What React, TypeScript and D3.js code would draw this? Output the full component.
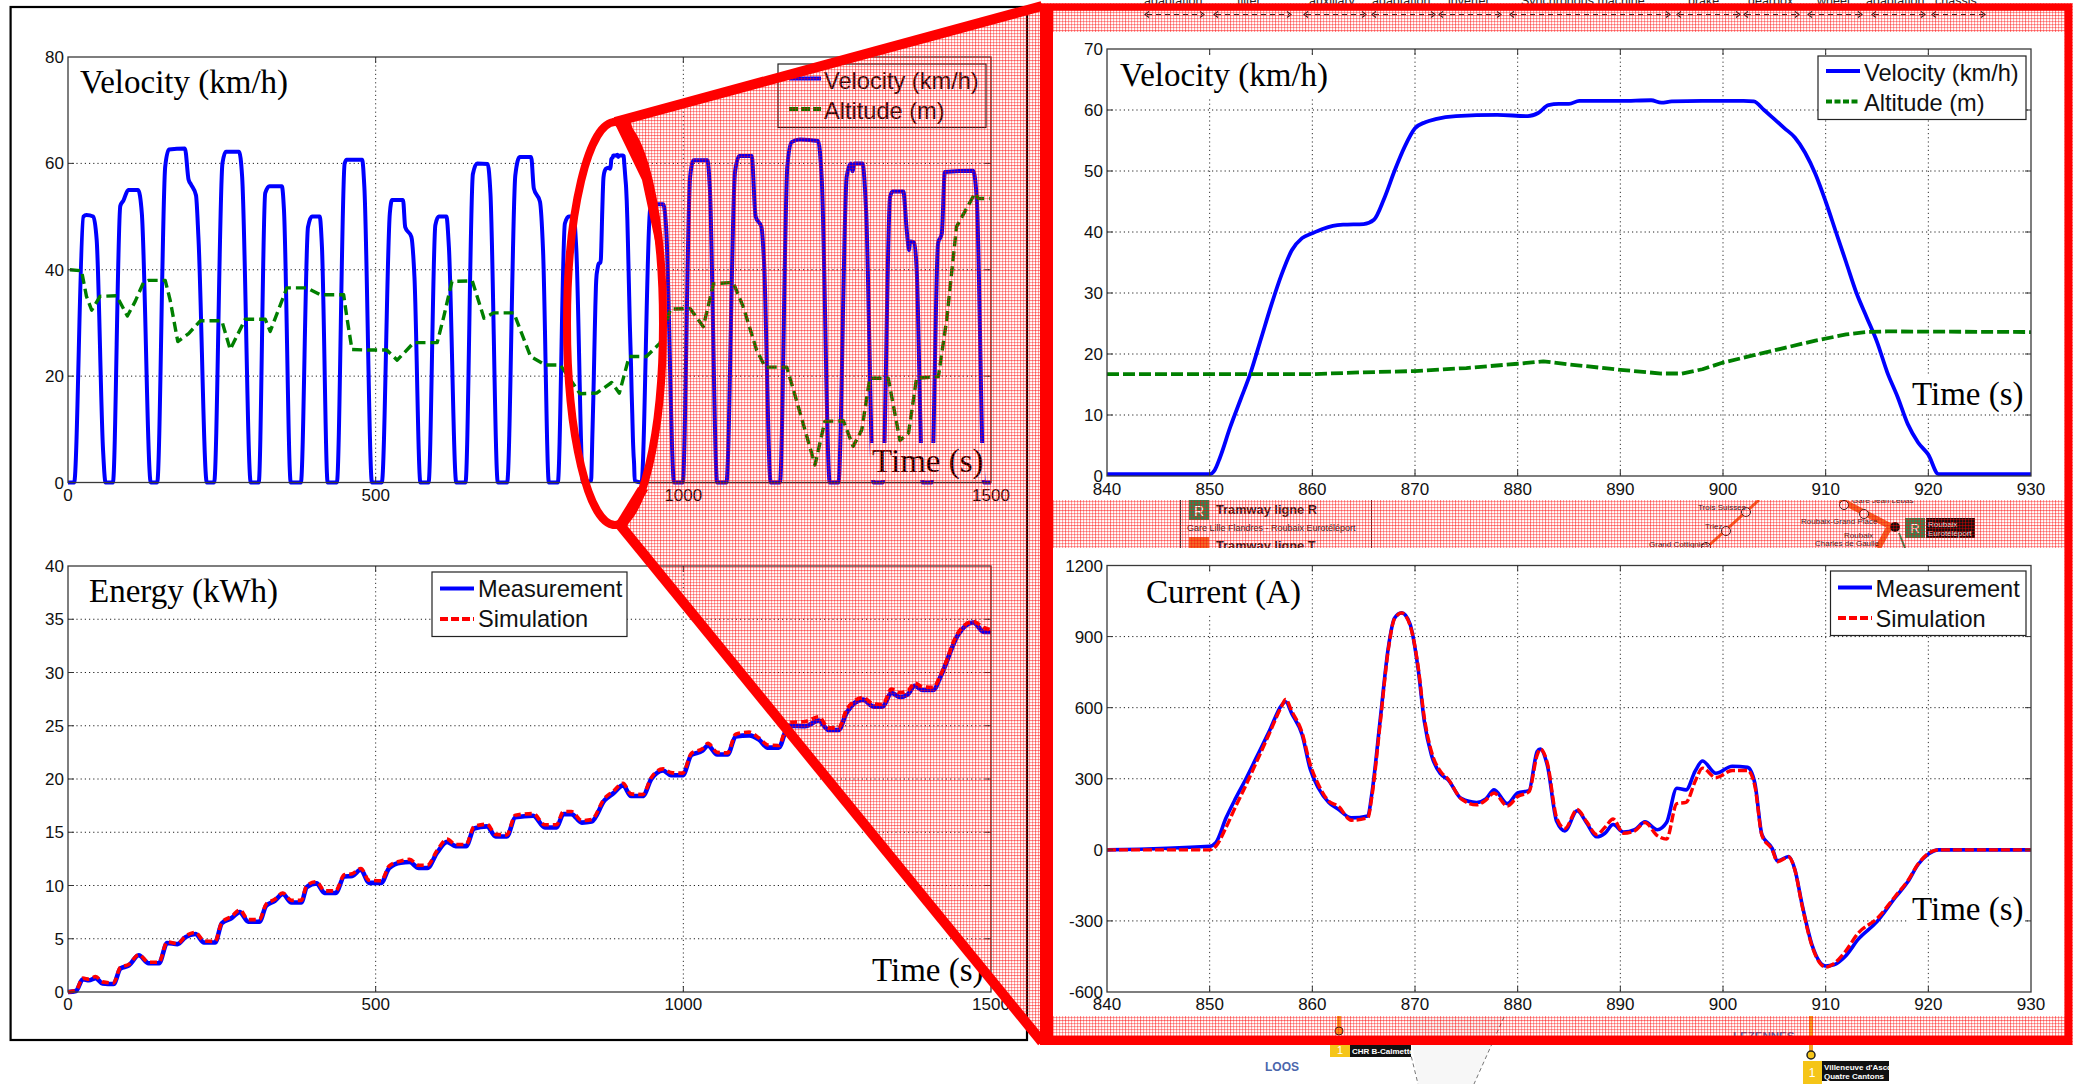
import React from "react";
import * as d3 from "d3";

type P = [number, number];

// ---------- data ----------
const velocityBefore: P[] = [[0,0],[10,0],[25,50],[30,50.3],[41,50],[46.6,45.6],[57,6],[61,0],[73,0],[85,52],[90,53],[98,55],[114,55],[120,50.6],[134.5,0],[145,0],[158,59.4],[164,62.6],[190,62.8],[196,56.9],[200,56],[208,54],[212,46],[225.6,0],[237.5,0],[251,60],[256.5,62.2],[278,62.2],[283,57.5],[297,0],[310,0],[320.5,54.4],[327.5,55.7],[347.6,55.7],[351,51.2],[362,0],[378.5,0],[390,48],[396.4,50],[409,50],[412.7,44.3],[422,0],[437,0],[449.6,60],[453,60.7],[478,60.7],[481.6,55.6],[494,0],[510,0],[523,50.6],[526.6,53.1],[544.5,53.1],[548,48],[558,46.2],[563,38.7],[572.7,0],[586,0],[597,48.4],[602.5,50],[615,50],[619,44.3],[631,0],[646,0],[658,58],[665,60],[682,59.9],[686.5,54.4],[698.5,0],[713.7,0],[727,57.8],[734,61.2],[752.7,61.2],[757,55.3],[767,52.8],[772,43.7],[781.5,0],[796,0],[807.5,48.7],[814,50],[822,50],[826,44],[837,0]];
const velocityZoom: P[] = [[840,0.3],[850,0.3],[850.5,1],[851,3],[852,8],[853,12.5],[854,17],[855,22.5],[856,28],[857,33],[858,37],[859,39],[860,39.8],[861,40.5],[862,41],[863,41.2],[865,41.3],[866,42],[867,45.5],[868,50],[869,54],[870,57],[871,58],[872,58.5],[874,59],[878,59.2],[881,59],[882,59.5],[883,60.8],[884,61],[885,61],[886,61.5],[890,61.5],[893,61.6],[894,61.2],[895,61.4],[898,61.5],[902,61.5],[903,61.4],[904,60],[905,58.5],[906,57],[907,55.5],[908,53],[909,49.5],[910,45],[911,40],[912,35],[913,30],[914,26],[915,22],[916,17],[917,13],[918,8.5],[919,5.5],[920,3.5],[921,0.3],[930,0.3]];
const velocityAfter: P[] = [[932,0],[946,51.2],[952,52.3],[967.5,52.3],[972,48],[985,0],[999,0],[1011,57.5],[1017,60.6],[1039,60.6],[1043,55.6],[1055,0],[1070,0],[1084,58.4],[1091,61.4],[1111,61.4],[1117.5,50],[1127,48],[1131,41.8],[1142,0],[1157,0],[1169,59.4],[1176,64],[1189.6,64.5],[1219,64.2],[1225,56.9],[1238,0],[1252,0],[1265.5,57.5],[1272,60],[1275,58.5],[1278,60],[1291,60],[1297,51.2],[1309,0],[1324,0],[1336,53.7],[1340,54.7],[1357.5,54.7],[1363,47.5],[1367,43.7],[1368.4,45.3],[1375.4,45.1],[1379,40.6],[1389,0],[1403.5,0],[1414,45],[1420,46.8],[1425,58.4],[1471,58.6],[1477,53],[1488.6,0],[1500,0]];
const altitudeAll: P[] = [[3,40],[22,39.8],[30,35],[38.5,32.4],[52,35],[79,35.1],[96.5,31.3],[109,34],[122.6,37.6],[131,38],[158,38],[166,34.3],[178.4,26.5],[196,28],[215,30.4],[250,30.4],[263.6,25],[288,30.7],[320.5,30.7],[328.6,28.4],[355.7,36.6],[388,36.6],[410,35.3],[448,35.3],[453,31.2],[461.5,25],[491,24.9],[518,24.9],[535,23],[562,26.3],[600,26.3],[610.7,31.2],[624,37.8],[657,37.9],[676,30.9],[692,31.9],[724.5,31.9],[751.6,23.7],[776,22.1],[800,22.1],[832,16.7],[859,16.8],[883.5,18.8],[896,16.8],[912,23.7],[940,23.7],[962,26.2],[979,32.6],[1011,32.7],[1032.5,29.3],[1049,37.4],[1081,37.6],[1097.5,33],[1119,24.9],[1133,21.7],[1168,21.7],[1179,17.4],[1214,3.3],[1230,11.5],[1260,11.6],[1276,6.8],[1290,9.9],[1303,19.6],[1333,19.6],[1352,7.9],[1366,9.3],[1379,19.6],[1414.5,19.9],[1428,30.6],[1444,48.1],[1474,54.4],[1479.5,53.4],[1498,53.4]];
const altitudeZoom: P[] = [[840,16.7],[860,16.7],[865,17],[870,17.2],[875,17.7],[880,18.4],[882.5,18.8],[885,18.3],[890,17.4],[894,16.8],[896,16.8],[898,17.5],[900,18.6],[903,19.8],[906,21],[909,22.2],[912,23.2],[914,23.6],[916,23.7],[930,23.6]];

const energyMeasured: P[] = [[0,0],[13,0.1],[24,1.2],[34,1.1],[45,1.3],[56,0.8],[74,0.75],[85,2.2],[99,2.5],[115,3.45],[131,2.7],[148,2.7],[161,4.6],[178,4.5],[191,5.15],[207,5.45],[221,4.65],[239,4.65],[250,6.45],[266,6.95],[279,7.5],[293,6.6],[311,6.6],[322,8.1],[336,8.55],[349,9.2],[363,8.4],[379,8.4],[388,9.85],[404,10.2],[417,9.3],[435,9.3],[449,10.85],[462,10.9],[476,11.5],[489,10.25],[509,10.25],[522,11.65],[541,12.15],[555,12.2],[570,11.65],[584,11.65],[600,13.1],[616,14.1],[630,13.7],[647,13.7],[660,15.35],[681,15.55],[695,14.6],[713,14.6],[727,16.4],[756,16.55],[775,15.45],[794,15.45],[805,16.7],[818,16.7],[835,15.9],[851,16],[872,18],[886,18.65],[902,19.4],[915,18.4],[934,18.4],[948,20],[967,20.8],[980,20.35],[999,20.35],[1013,22.25],[1031,22.65],[1040,23.15],[1055,22.3],[1072,22.3],[1085,24],[1107,24.1],[1123,23.7],[1137,22.95],[1155,22.95],[1171,25],[1198,24.95],[1220,25.5],[1236,24.6],[1252,24.6],[1266,26.3],[1292,27.45],[1309,26.8],[1324,26.8],[1338,28.1],[1352,27.7],[1365,27.95],[1376,28.75],[1389,28.35],[1406,28.35],[1419,29.75],[1446,33.5],[1471,34.7],[1489,33.8],[1500,33.8]];
const energySimulated: P[] = [[0,0],[13,0.15],[24,1.3],[34,1.2],[45,1.45],[56,0.95],[74,0.85],[85,2.3],[99,2.6],[115,3.5],[131,2.8],[148,2.8],[161,4.7],[178,4.55],[191,5.25],[207,5.6],[221,4.8],[239,4.75],[250,6.55],[266,7.1],[279,7.7],[293,6.8],[311,6.8],[322,8.25],[336,8.7],[349,9.3],[363,8.6],[379,8.6],[388,10],[404,10.35],[417,9.5],[435,9.5],[449,11],[462,11.1],[476,11.6],[489,10.5],[509,10.45],[522,11.85],[541,12.3],[555,12.45],[570,11.9],[584,11.9],[600,13.3],[616,14.35],[630,13.85],[647,13.85],[660,15.55],[681,15.75],[695,14.8],[713,14.75],[727,16.6],[756,16.75],[775,15.7],[794,15.7],[805,16.95],[818,16.95],[835,16.1],[851,16.2],[872,18.2],[886,18.85],[902,19.6],[915,18.6],[934,18.55],[948,20.15],[967,20.95],[980,20.6],[999,20.55],[1013,22.4],[1031,22.85],[1040,23.35],[1055,22.5],[1072,22.45],[1085,24.2],[1107,24.4],[1123,23.85],[1137,23.2],[1155,23.15],[1171,25.3],[1198,25.4],[1220,25.85],[1236,24.8],[1252,24.8],[1266,26.6],[1292,27.65],[1309,27.05],[1324,27],[1338,28.45],[1352,28.1],[1365,28.3],[1376,29],[1389,28.65],[1406,28.6],[1419,29.9],[1446,33.7],[1471,34.8],[1489,34.2],[1500,34]];

const currentTime = [840,850,850.6,851.6,852.5,853.5,854.5,855.8,857,857.4,858,859,859.8,860.6,861.6,862.5,863.8,865.4,865.8,866.6,867.4,868,868.7,869.5,870.3,870.9,871.6,872.5,873.2,874.5,876,876.9,877.7,879,880,881.1,881.9,882.2,882.9,883.8,884.6,885.8,886.7,887.7,888.5,889.3,890.3,891.4,892.4,893.6,894.5,895.5,896.4,897.3,898,899.3,900.9,902.4,903.1,903.8,904.8,905.3,906.4,907,907.7,908.7,910,910.8,911.9,913.2,915,916.8,918,919,920,921,930];
const currentMeasured = [0,15,30,135,215,297,385,500,610,625,575,487,340,260,200,172,135,143,238,545,853,977,1000,955,765,545,400,320,297,217,200,215,253,195,240,250,415,425,355,120,80,165,115,55,70,107,75,85,118,85,115,260,253,333,375,323,353,348,282,63,5,-47,-28,-83,-230,-405,-490,-485,-450,-376,-303,-200,-135,-62,-18,0,0];
const currentSimulated = [0,0,15,95,180,270,365,490,605,635,585,495,360,275,205,185,125,135,225,530,845,975,1000,950,775,560,415,330,300,215,190,210,240,185,225,245,400,425,365,135,90,170,120,65,95,130,70,80,115,60,45,195,200,290,345,305,335,335,270,60,0,-50,-30,-85,-235,-410,-495,-480,-430,-350,-290,-195,-130,-60,-15,0,0];

const leftTimeTicks = [0, 500, 1000, 1500];
const zoomTimeTicks = [840, 850, 860, 870, 880, 890, 900, 910, 920, 930];
const velocityTicks = [0, 20, 40, 60, 80];
const energyTicks = [0, 5, 10, 15, 20, 25, 30, 35, 40];
const zoomVelocityTicks = [0, 10, 20, 30, 40, 50, 60, 70];
const currentTicks = [-600, -300, 0, 300, 600, 900, 1200];

const topLabels = ["adaptation", "filter", "auxiliary", "adaptation", "inverter", "Synchronous machine", "brake", "gearbox", "wheel", "adaptation", "chassis"];
const topLabelX = [1144, 1237, 1309, 1372, 1448, 1521, 1688, 1748, 1817, 1866, 1935];

// ---------- look ----------
const SANS = "'Liberation Sans', Arial, sans-serif";
const SERIF = "'Liberation Serif', 'Times New Roman', serif";
const BLUE = "#0000ff";
const GREEN = "#007f00";
const RED = "#ff0000";

type Series = { pts: P[]; color: string; width: number; dash?: string; curve?: boolean };
type Legend = { x: number; y: number; w: number; h: number; lx0: number; lx1: number; ly: number[]; tx: number; by: number[]; labels: string[] };
type PanelProps = {
  x: [number, number]; y: [number, number]; xDomain: [number, number]; yDomain: [number, number];
  xTicks: number[]; yTicks: number[]; series: Series[]; title: string; titleX: number; titleBase: number;
  timeX: number; timeBase: number; timeBox: [number, number, number, number]; titleBox: [number, number, number, number];
  legend: Legend; legendSeries: Series[]; xLabelBase: number; yLabelRight: number;
};

function Panel(p: PanelProps) {
  const sx = d3.scaleLinear().domain(p.xDomain).range(p.x);
  const sy = d3.scaleLinear().domain(p.yDomain).range([p.y[1], p.y[0]]);
  const line = d3.line<P>().x((d) => sx(d[0])).y((d) => sy(d[1]));
  const smooth = d3.line<P>().x((d) => sx(d[0])).y((d) => sy(d[1])).curve(d3.curveMonotoneX);
  const left = p.x[0], right = p.x[1], top = p.y[0], bottom = p.y[1];
  const L = p.legend;
  return (
    <g>
      <rect x={left} y={top} width={right - left} height={bottom - top} fill="#fff" />
      {p.xTicks.slice(1, -1).map((t) => (
        <line key={t} x1={sx(t)} x2={sx(t)} y1={top} y2={bottom} stroke="#333" strokeWidth={1} strokeDasharray="1.2 3" />
      ))}
      {p.yTicks.slice(1, -1).map((t) => (
        <line key={t} x1={left} x2={right} y1={sy(t)} y2={sy(t)} stroke="#222" strokeWidth={1} strokeDasharray="1.2 3" />
      ))}
      {p.series.map((s, i) => (
        <path key={i} d={(s.curve ? smooth : line)(s.pts) || ""} fill="none" stroke={s.color} strokeWidth={s.width} strokeDasharray={s.dash} strokeLinejoin="round" />
      ))}
      <rect x={p.titleBox[0]} y={p.titleBox[1]} width={p.titleBox[2]} height={p.titleBox[3]} fill="#fff" />
      <rect x={p.timeBox[0]} y={p.timeBox[1]} width={p.timeBox[2]} height={p.timeBox[3]} fill="#fff" />
      <rect x={left} y={top} width={right - left} height={bottom - top} fill="none" stroke="#3a3a3a" strokeWidth={1.3} />
      {p.xTicks.slice(1, -1).map((t) => (
        <g key={t}>
          <line x1={sx(t)} x2={sx(t)} y1={top} y2={top + 6} stroke="#333" />
          <line x1={sx(t)} x2={sx(t)} y1={bottom} y2={bottom - 6} stroke="#333" />
        </g>
      ))}
      {p.yTicks.slice(1, -1).map((t) => (
        <g key={t}>
          <line x1={left} x2={left + 6} y1={sy(t)} y2={sy(t)} stroke="#333" />
          <line x1={right} x2={right - 6} y1={sy(t)} y2={sy(t)} stroke="#333" />
        </g>
      ))}
      {p.xTicks.map((t) => (
        <text key={t} x={sx(t)} y={p.xLabelBase} textAnchor="middle" fontFamily={SANS} fontSize={17} fill="#111">{t}</text>
      ))}
      {p.yTicks.map((t) => (
        <text key={t} x={p.yLabelRight} y={sy(t) + 6} textAnchor="end" fontFamily={SANS} fontSize={17} fill="#111">{t}</text>
      ))}
      <text x={p.titleX} y={p.titleBase} fontFamily={SERIF} fontSize={33} fill="#000">{p.title}</text>
      <text x={p.timeX} y={p.timeBase} fontFamily={SERIF} fontSize={33} fill="#000">Time (s)</text>
      <rect x={L.x} y={L.y} width={L.w} height={L.h} fill="#fff" stroke="#222" strokeWidth={1.2} />
      {p.legendSeries.map((s, i) => (
        <g key={i}>
          <line x1={L.lx0} x2={L.lx1} y1={L.ly[i]} y2={L.ly[i]} stroke={s.color} strokeWidth={4} strokeDasharray={s.dash} />
          <text x={L.tx} y={L.by[i]} fontFamily={SANS} fontSize={23.6} fill="#111">{L.labels[i]}</text>
        </g>
      ))}
    </g>
  );
}

function DashedArrow({ x0, x1, y }: { x0: number; x1: number; y: number }) {
  return (
    <g stroke="#222" fill="none" strokeWidth={1.2}>
      <line x1={x0 + 2} x2={x1 - 2} y1={y} y2={y} strokeDasharray="5 4" />
      <path d={`M${x0 + 4},${y - 3} L${x0},${y} L${x0 + 4},${y + 3}`} />
      <path d={`M${x1 - 4},${y - 3} L${x1},${y} L${x1 - 4},${y + 3}`} />
    </g>
  );
}

const arrowSpans: P[] = [[1145, 1204], [1214, 1291], [1304, 1366], [1372, 1435], [1439, 1501], [1510, 1670], [1677, 1740], [1744, 1799], [1808, 1862], [1872, 1925], [1932, 1985]];

export default function App() {
  const velocity: P[] = [...velocityBefore, ...velocityZoom.slice(1, -1), ...velocityAfter];
  const cm: P[] = currentTime.map((t, i) => [t, currentMeasured[i]]);
  const cs: P[] = currentTime.map((t, i) => [t, currentSimulated[i]]);

  const velL: Series = { pts: velocity, color: BLUE, width: 4, curve: true };
  const altL: Series = { pts: altitudeAll, color: GREEN, width: 3.4, dash: "10 5" };
  const velZ: Series = { pts: velocityZoom, color: BLUE, width: 3.8, curve: true };
  const altZ: Series = { pts: altitudeZoom, color: GREEN, width: 3.8, dash: "12 4" };
  const enM: Series = { pts: energyMeasured, color: BLUE, width: 4.6, curve: true };
  const enS: Series = { pts: energySimulated, color: RED, width: 3.6, dash: "7 4", curve: true };
  const curM: Series = { pts: cm, color: BLUE, width: 3.6, curve: true };
  const curS: Series = { pts: cs, color: RED, width: 3.4, dash: "9 3", curve: true };

  const hatch = "M615,120 L1040,5 L1040,1040 L620,525 A48,201.5 0 0 0 615,122 Z";

  return (
    <svg width={2080} height={1084} viewBox="0 0 2080 1084" style={{ position: "absolute", left: 0, top: 0, display: "block" }}>
      <defs>
        <pattern id="fine" width={3} height={3} patternUnits="userSpaceOnUse">
          <rect width={3} height={1.1} fill="rgba(255,0,0,0.36)" />
          <rect width={1.1} height={3} fill="rgba(255,0,0,0.36)" />
        </pattern>
        <pattern id="coarse" width={15} height={15} patternUnits="userSpaceOnUse">
          <rect width={15} height={1} fill="rgba(255,0,0,0.18)" />
          <rect width={1} height={15} fill="rgba(255,0,0,0.18)" />
        </pattern>
      </defs>
      <rect width={2080} height={1084} fill="#fff" />

      {/* background map, partly visible around the plots */}
      <g fontFamily={SANS}>
        {topLabels.map((t, i) => (
          <text key={i} x={topLabelX[i]} y={5} fontSize={12.5} fill="#222" textAnchor="start">{t}</text>
        ))}
        <line x1={1180.5} x2={1180.5} y1={500} y2={548} stroke="#333" />
        <line x1={1371.5} x2={1371.5} y1={500} y2={548} stroke="#333" />
        <rect x={1189} y={500} width={20} height={20} fill="#2e8b57" />
        <text x={1199} y={516} textAnchor="middle" fontSize={14} fill="#fff">R</text>
        <text x={1216} y={514} fontSize={12.8} fontWeight={700} fill="#222">Tramway ligne R</text>
        <text x={1187} y={531} fontSize={9} fill="#222">Gare Lille Flandres - Roubaix Eurotéléport</text>
        <rect x={1189} y={537} width={20} height={20} fill="#f26b2a" />
        <text x={1216} y={550} fontSize={12.8} fontWeight={700} fill="#222">Tramway ligne T</text>
        <line x1={1759} y1={500} x2={1706} y2={548} stroke="#f26b2a" strokeWidth={3} />
        <path d="M1840,500 L1890,526 L1878,548" fill="none" stroke="#f26b2a" strokeWidth={6} />
        <line x1={1899} y1={533} x2={1905} y2={548} stroke="#2e8b57" strokeWidth={2} />
        {[[1746, 512], [1726, 531], [1706, 547], [1844, 505], [1864, 514]].map(([cx, cy], i) => (
          <circle key={i} cx={cx} cy={cy} r={4.5} fill="#fff" stroke="#222" />
        ))}
        <circle cx={1895} cy={527} r={5} fill="#111" />
        <text x={1698} y={510} fontSize={8} fill="#222">Trois Suisses</text>
        <text x={1705} y={529} fontSize={8} fill="#222">Triez</text>
        <text x={1649} y={547} fontSize={8} fill="#222">Grand Cottignies</text>
        <text x={1852} y={503} fontSize={8} fill="#222">Gare Jean Lebas</text>
        <text x={1801} y={524} fontSize={8} fill="#222">Roubaix-Grand Place</text>
        <text x={1844} y={538} fontSize={8} fill="#222">Roubaix</text>
        <text x={1815} y={546} fontSize={8} fill="#222">Charles de Gaulle</text>
        <rect x={1905} y={518} width={20} height={20} fill="#2e8b57" />
        <text x={1915} y={533} textAnchor="middle" fontSize={13} fill="#fff">R</text>
        <rect x={1926} y={518} width={49} height={20} fill="#111" />
        <text x={1928} y={527} fontSize={8} fill="#fff">Roubaix</text>
        <text x={1928} y={536} fontSize={8} fill="#fff">Eurotéléport</text>

        <path d="M1408,1017 L1418,1084 L1474,1084 L1504,1017 Z" fill="#f7f7f7" />
        <line x1={1408} y1={1043} x2={1418} y2={1084} stroke="#777" strokeDasharray="4 3" />
        <line x1={1504} y1={1017} x2={1474} y2={1084} stroke="#777" strokeDasharray="4 3" />
        <line x1={1339} x2={1339} y1={1016} y2={1031} stroke="#f5a623" strokeWidth={4} />
        <circle cx={1339} cy={1031} r={4} fill="#f5a623" stroke="#222" />
        <line x1={1811} x2={1811} y1={1016} y2={1052} stroke="#f5a623" strokeWidth={4} />
        <circle cx={1811} cy={1055} r={4} fill="#f5c518" stroke="#222" strokeWidth={1.5} />
        <text x={1733} y={1040} fontSize={11.5} fontWeight={700} fill="#4a66ac">LEZENNES</text>
        <rect x={1330} y={1040} width={20} height={17} fill="#f5c518" />
        <text x={1340} y={1054} textAnchor="middle" fontSize={11} fill="#fff">1</text>
        <rect x={1350} y={1043} width={61} height={14} fill="#111" />
        <text x={1352} y={1054} fontSize={8} fontWeight={700} fill="#fff">CHR B-Calmette</text>
        <text x={1265} y={1071} fontSize={12} fontWeight={700} fill="#4a66ac">LOOS</text>
        <rect x={1803} y={1061} width={19} height={23} fill="#f5c518" />
        <text x={1812} y={1077} textAnchor="middle" fontSize={12} fill="#fff">1</text>
        <rect x={1822} y={1061} width={67} height={20} fill="#111" />
        <text x={1824} y={1070} fontSize={8} fontWeight={700} fill="#fff">Villeneuve d'Ascq</text>
        <text x={1824} y={1079} fontSize={8} fontWeight={700} fill="#fff">Quatre Cantons</text>
      </g>
      {arrowSpans.map(([a, b], i) => <DashedArrow key={i} x0={a} x1={b} y={14.5} />)}

      {/* left: overall run */}
      <Panel
        x={[68, 991]} y={[57, 482.5]} xDomain={[0, 1500]} yDomain={[0, 80]}
        xTicks={leftTimeTicks} yTicks={velocityTicks} series={[velL, altL]}
        title="Velocity (km/h)" titleX={80} titleBase={93} titleBox={[76, 64, 216, 40]}
        timeX={872} timeBase={472} timeBox={[870, 443, 115, 37]}
        legend={{ x: 778, y: 64, w: 208, h: 63.5, lx0: 789, lx1: 821, ly: [78.5, 109], tx: 824, by: [89, 119], labels: ["Velocity (km/h)", "Altitude (m)"] }}
        legendSeries={[{ ...velL }, { ...altL, dash: "9 3" }]}
        xLabelBase={501} yLabelRight={64}
      />
      <Panel
        x={[68, 991]} y={[566, 992]} xDomain={[0, 1500]} yDomain={[0, 40]}
        xTicks={leftTimeTicks} yTicks={energyTicks} series={[enM, enS]}
        title="Energy (kWh)" titleX={89} titleBase={602} titleBox={[85, 574, 195, 40]}
        timeX={872} timeBase={981} timeBox={[870, 952, 115, 36]}
        legend={{ x: 432, y: 572, w: 195, h: 64.5, lx0: 440, lx1: 474, ly: [588.6, 619], tx: 478, by: [597, 627], labels: ["Measurement", "Simulation"] }}
        legendSeries={[enM, { ...enS, dash: "8 3" }]}
        xLabelBase={1010} yLabelRight={64}
      />
      <rect x={10.6} y={7} width={1016.4} height={1033} fill="none" stroke="#000" strokeWidth={2.2} />

      {/* hatched blow-up wedge */}
      <path d={hatch} fill="url(#fine)" />
      <path d={hatch} fill="url(#coarse)" />
      <rect x={1040} y={3} width={1033} height={1042} fill="url(#fine)" />
      <rect x={1040} y={3} width={1033} height={1042} fill="url(#coarse)" />

      {/* white plot sheets on the right */}
      <rect x={1053} y={32} width={1011.5} height={468} fill="#fff" />
      <rect x={1053} y={548} width={1011.5} height={468} fill="#fff" />

      <Panel
        x={[1107, 2031]} y={[49, 476]} xDomain={[840, 930]} yDomain={[0, 70]}
        xTicks={zoomTimeTicks} yTicks={zoomVelocityTicks} series={[velZ, altZ]}
        title="Velocity (km/h)" titleX={1120} titleBase={86} titleBox={[1116, 56, 216, 42]}
        timeX={1912} timeBase={405} timeBox={[1908, 376, 116, 38]}
        legend={{ x: 1818, y: 56, w: 208, h: 63.5, lx0: 1826, lx1: 1860, ly: [71, 101.6], tx: 1864, by: [81, 111], labels: ["Velocity (km/h)", "Altitude (m)"] }}
        legendSeries={[velZ, { ...altZ, dash: "6 2.5" }]}
        xLabelBase={495} yLabelRight={1103}
      />
      <Panel
        x={[1107, 2031]} y={[565.5, 992]} xDomain={[840, 930]} yDomain={[-600, 1200]}
        xTicks={zoomTimeTicks} yTicks={currentTicks} series={[curM, curS]}
        title="Current (A)" titleX={1146} titleBase={603} titleBox={[1142, 574, 160, 40]}
        timeX={1912} timeBase={920} timeBox={[1908, 894, 116, 36]}
        legend={{ x: 1830.5, y: 571, w: 195.5, h: 64.5, lx0: 1838, lx1: 1872, ly: [587.5, 618], tx: 1875.5, by: [596.5, 627], labels: ["Measurement", "Simulation"] }}
        legendSeries={[curM, { ...curS, dash: "8 3" }]}
        xLabelBase={1010} yLabelRight={1103}
      />

      {/* red frame, callout lines and ellipse */}
      <path d="M1040,3.4 H2072.5 V1045 H1040 Z M1053,10.7 V1036 H2064.5 V10.7 Z" fill={RED} fillRule="evenodd" />
      <line x1={615} y1={122} x2={1042} y2={6} stroke={RED} strokeWidth={10} />
      <line x1={620} y1={525} x2={1042} y2={1042} stroke={RED} strokeWidth={10} />
      <ellipse cx={615} cy={323.5} rx={48} ry={201.5} fill="none" stroke={RED} strokeWidth={8} />
      <path d="M612,118 L630,120 L652,190 L665,268 L657,250 L642,180 Z" fill={RED} />
      <path d="M612,529 L626,528 L648,490 L638,487 Z" fill={RED} />
    </svg>
  );
}
